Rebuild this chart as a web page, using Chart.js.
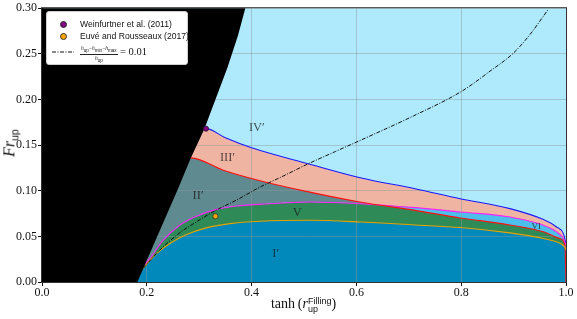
<!DOCTYPE html>
<html>
<head>
<meta charset="utf-8">
<script src="https://cdn.jsdelivr.net/npm/chart.js@4.4.1/dist/chart.umd.min.js"></script>
<style>
  html, body { margin: 0; padding: 0; background: #fff; }
  #wrap { position: relative; width: 577px; height: 319px; }
  #wrap canvas { position: absolute; left: 0; top: 0; }
  #legend {
    position: absolute; left: 46px; top: 11px; width: 142px; height: 54px;
    background: #fff; border: 1px solid #cfcfcf; border-radius: 3px; box-sizing: border-box;
    font-family: "Liberation Sans", sans-serif; font-size: 8.6px; color: #111;
  }
  #legend .row { position: absolute; left: 0; white-space: nowrap; }
  #legend .dot {
    position: absolute; width: 5px; height: 5px; border-radius: 50%;
    border: 0.7px solid #333; left: 13px;
  }
  #legend .txt { position: absolute; left: 33px; line-height: 12px; }
  .frac { position: absolute; left: 33px; top: -2px; font-family: "Liberation Serif", serif; font-size: 5.5px; text-align: center; }
  .frac .num { display: block; border-bottom: 0.6px solid #222; padding: 0 1px; line-height: 7px; }
  .frac .den { display: block; line-height: 7px; }
  .frac sub, .ytitle sub { font-family: "Liberation Sans", sans-serif; }
  .eq { position: absolute; left: 73px; top: -1px; font-family: "Liberation Serif", serif; font-size: 10.5px; line-height: 12px; }
  .xtitle {
    position: absolute; left: 0; width: 577px; top: 296px; text-align: center;
    padding-left: 30px; box-sizing: border-box;
    font-family: "Liberation Serif", serif; font-size: 14px; color: #111;
  }
  .xtitle .stack { display: inline-block; vertical-align: -4px; line-height: 8px; font-family: "Liberation Sans", sans-serif; font-size: 9px; text-align: left; }
  .xtitle .stack span { display: block; }
  .ytitle {
    position: absolute; left: 12px; top: 143px; transform: translate(-50%, -50%) rotate(-90deg);
    font-family: "Liberation Serif", serif; font-size: 16px; color: #111; white-space: nowrap; line-height: 16px;
  }
  .ytitle sub { font-size: 10.5px; }
</style>
</head>
<body>
<div id="wrap">
  <canvas id="chart" width="577" height="319"></canvas>
  <div id="legend">
    <div class="row" style="top:7px"><span class="dot" style="background:#800080;top:2px"></span><span class="txt" style="top:-1px">Weinfurtner et al. (2011)</span></div>
    <div class="row" style="top:19px"><span class="dot" style="background:#ffa500;top:2px"></span><span class="txt" style="top:-1px">Euvé and Rousseaux (2017)</span></div>
    <div class="row" style="top:35px">
      <svg style="position:absolute;left:5px;top:4px" width="22" height="2"><line x1="0" y1="1" x2="22" y2="1" stroke="#111" stroke-width="1" stroke-dasharray="4,1.5,1,1.5"/></svg>
      <span class="frac"><span class="num"><i>h</i><sub>up</sub>−<i>h</i><sub>min</sub>−<i>h</i><sub>max</sub></span><span class="den"><i>h</i><sub>up</sub></span></span>
      <span class="eq">= 0.01</span>
    </div>
  </div>
  <div class="xtitle">tanh&thinsp;(<i>r</i><span class="stack"><span>Filling</span><span>up</span></span>)</div>
  <div class="ytitle"><i>Fr</i><sub>up</sub></div>
</div>
<script>
// black (forbidden) zone edge
const edgeX = [0.182, 0.220, 0.258, 0.284, 0.310, 0.331, 0.354, 0.374, 0.388];
const edgeY = [0.0, 0.05, 0.10, 0.136, 0.168, 0.20, 0.235, 0.27, 0.30];

// boundary curves (first point runs under the black zone)
const blueX = [0.17, 0.313, 0.35, 0.40, 0.508, 0.607, 0.712, 0.798, 0.893, 0.957, 0.982, 0.995, 0.999, 1.0];
const blueY = [0.168, 0.168, 0.158, 0.147, 0.1295, 0.1142, 0.1022, 0.0913, 0.0804, 0.0684, 0.0603, 0.053, 0.044, 0.040];

const redX = [0.17, 0.284, 0.346, 0.416, 0.511, 0.607, 0.712, 0.798, 0.893, 0.957, 0.989, 0.998, 1.0];
const redY = [0.136, 0.136, 0.1225, 0.111, 0.0985, 0.0876, 0.0785, 0.0702, 0.0625, 0.055, 0.0475, 0.040, 0.0];

const magX = [0.17, 0.19, 0.206, 0.2315, 0.263, 0.295, 0.333, 0.372, 0.416, 0.511, 0.607, 0.712, 0.798, 0.893, 0.957, 0.982, 0.995, 0.999, 1.0];
const magY = [0.0, 0.015, 0.0258, 0.0458, 0.0622, 0.072, 0.0796, 0.0833, 0.0851, 0.0876, 0.0858, 0.0815, 0.0767, 0.0713, 0.0622, 0.0549, 0.0476, 0.042, 0.040];

const orX = [0.17, 0.19, 0.219, 0.244, 0.276, 0.314, 0.359, 0.416, 0.511, 0.607, 0.712, 0.798, 0.893, 0.957, 0.982, 0.995, 0.999, 1.0];
const orY = [0.0, 0.013, 0.0313, 0.0422, 0.052, 0.0593, 0.064, 0.0665, 0.0676, 0.0658, 0.0625, 0.0597, 0.0538, 0.0477, 0.044, 0.040, 0.0367, 0.035];

// (h_up - h_min - h_max)/h_up = 0.01
const dashX = [0.193, 0.225, 0.263, 0.295, 0.330, 0.372, 0.416, 0.46, 0.508, 0.56, 0.626, 0.709, 0.801, 0.855, 0.90, 0.931, 0.966];
const dashY = [0.015, 0.035, 0.054, 0.066, 0.078, 0.090, 0.104, 0.116, 0.1295, 0.143, 0.160, 0.182, 0.209, 0.231, 0.251, 0.271, 0.2986];

// experiments
const weinfurtner = [0.313, 0.168];
const euve = [0.331, 0.072];

const regionNames = ["IV′", "III′", "II′", "V", "I′", "VI"];
const regionAt = [[0.41, 0.169], [0.354, 0.136], [0.298, 0.094], [0.487, 0.0756], [0.446, 0.0305], [0.943, 0.0603]];

const C_IV = "#aeeafc", C_III = "#efb4a2", C_II = "#5f8a8f", C_V = "#2e8b57", C_I = "#0089ba", C_VI = "#4cbfea";

const pts = (xs, ys) => xs.map((x, i) => ({ x, y: ys[i] }));

const curve = (label, xs, ys, color, fill, order) => ({
  label, data: pts(xs, ys), borderColor: color, borderWidth: 1.1,
  pointRadius: 0, cubicInterpolationMode: "monotone", fill, order
});

const regions = {
  id: "regions",
  beforeDraw(chart) {
    const { ctx, chartArea: a } = chart;
    ctx.save();
    ctx.globalCompositeOperation = "destination-over";
    ctx.fillStyle = C_IV;
    ctx.fillRect(a.left, a.top, a.width, a.height);
    ctx.restore();
  },
  beforeDatasetDraw(chart, args) {
    if (chart.data.datasets[args.index].label !== "dash") return;
    const { ctx, scales: { x, y } } = chart;
    ctx.save();
    ctx.beginPath();
    ctx.moveTo(x.getPixelForValue(x.min), y.getPixelForValue(y.max));
    ctx.lineTo(x.getPixelForValue(x.min), y.getPixelForValue(y.min));
    edgeX.forEach((v, i) => ctx.lineTo(x.getPixelForValue(v), y.getPixelForValue(edgeY[i])));
    ctx.closePath();
    ctx.fillStyle = "#000";
    ctx.fill();
    ctx.fillStyle = "rgba(20,20,20,0.72)";
    ctx.textAlign = "center";
    ctx.textBaseline = "middle";
    regionNames.forEach((t, i) => {
      ctx.font = (t === "VI" ? "9px" : "12.5px") + ' "Liberation Serif", serif';
      ctx.fillText(t, x.getPixelForValue(regionAt[i][0]), y.getPixelForValue(regionAt[i][1]));
    });
    ctx.restore();
  },
  afterDraw(chart) {
    const { ctx, chartArea: a } = chart;
    ctx.save();
    ctx.strokeStyle = "#333";
    ctx.lineWidth = 1;
    ctx.strokeRect(a.left - 0.5, a.top - 0.5, a.width + 1, a.height + 1);
    ctx.restore();
  }
};

new Chart(document.getElementById("chart"), {
  type: "line",
  data: {
    datasets: [
      { label: "Weinfurtner", data: [{ x: weinfurtner[0], y: weinfurtner[1] }], showLine: false,
        pointRadius: 2.6, pointBackgroundColor: "#800080", pointBorderColor: "#222", pointBorderWidth: 0.7, order: 0 },
      { label: "Euve", data: [{ x: euve[0], y: euve[1] }], showLine: false,
        pointRadius: 2.6, pointBackgroundColor: "#ffa500", pointBorderColor: "#222", pointBorderWidth: 0.7, order: 0 },
      { label: "dash", data: pts(dashX, dashY), borderColor: "#111", borderWidth: 1,
        borderDash: [4, 1.5, 1, 1.5], pointRadius: 0, cubicInterpolationMode: "monotone", fill: false, order: 1 },
      curve("orange", orX, orY, "#e8a200", { target: "origin", above: C_I, below: C_I }, 2),
      curve("red", redX, redY, "#ff1010", { target: 5, above: C_II, below: C_VI }, 3),
      curve("magenta", magX, magY, "#ff22ff", { target: 3, above: C_V, below: C_V }, 4),
      curve("blue", blueX, blueY, "#1a1aff", { target: 4, above: C_III, below: C_III }, 5)
    ]
  },
  options: {
    responsive: false,
    animation: false,
    events: [],
    layout: { padding: { top: 7, right: 11, left: 0, bottom: 0 } },
    plugins: { legend: { display: false }, tooltip: { enabled: false }, filler: { drawTime: "beforeDraw" } },
    scales: {
      x: {
        type: "linear", min: 0, max: 1,
        afterFit: s => { s.height = 37; },
        ticks: { stepSize: 0.2, padding: 0, color: "#111", callback: v => v.toFixed(1),
          font: { family: '"Liberation Serif", serif', size: 12 } },
        grid: { color: "rgba(140,150,155,0.45)", lineWidth: 1, tickColor: "#111", tickLength: 4, tickWidth: 1 },
        border: { color: "#111" }
      },
      y: {
        min: 0, max: 0.3,
        afterFit: s => { s.width = 42; },
        ticks: { stepSize: 0.05, padding: 1, color: "#111", callback: v => v.toFixed(2),
          font: { family: '"Liberation Serif", serif', size: 12 } },
        grid: { color: "rgba(140,150,155,0.45)", lineWidth: 1, tickColor: "#111", tickLength: 4, tickWidth: 1 },
        border: { color: "#111" }
      }
    }
  },
  plugins: [regions]
});
</script>
</body>
</html>
